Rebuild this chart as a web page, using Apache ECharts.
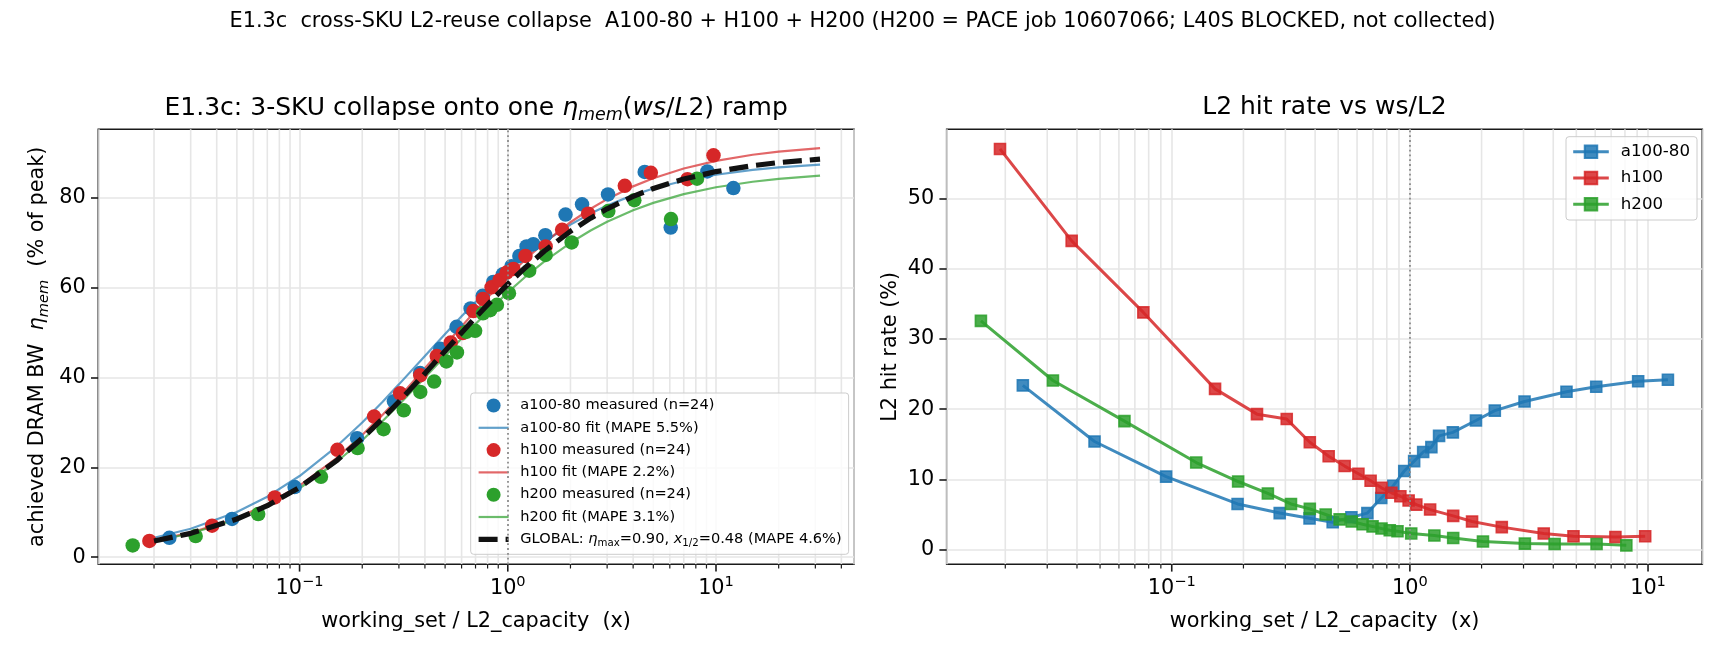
<!DOCTYPE html>
<html><head><meta charset="utf-8">
<script src="https://cdn.jsdelivr.net/npm/echarts@6/dist/echarts.min.js"></script>
<style>html,body{margin:0;padding:0;background:#fff}#c{width:1725px;height:660px}</style>
</head><body><div id="c"></div>
<script>
// ---------------- data ----------------
const xA100 = [0.0237, 0.0474, 0.0947, 0.189, 0.284, 0.379, 0.474, 0.568, 0.663, 0.758, 0.852, 0.947, 1.042, 1.137, 1.231, 1.326, 1.515, 1.894, 2.273, 3.03, 4.546, 6.06, 9.09, 12.12];
const etaA100 = [4.3, 8.5, 15.6, 26.5, 34.7, 41.0, 46.4, 51.3, 55.4, 58.2, 61.3, 63.0, 64.8, 67.1, 69.2, 69.7, 71.7, 76.3, 78.6, 80.8, 85.8, 73.4, 85.9, 82.2];
const hitA100 = [23.4, 15.4, 10.4, 6.5, 5.2, 4.45, 3.9, 4.6, 5.2, 7.35, 9.1, 11.2, 12.6, 13.9, 14.6, 16.2, 16.7, 18.4, 19.8, 21.1, 22.5, 23.2, 24.0, 24.2];

const xH100 = [0.019, 0.038, 0.076, 0.152, 0.228, 0.304, 0.380, 0.456, 0.532, 0.608, 0.684, 0.760, 0.836, 0.912, 0.988, 1.064, 1.216, 1.52, 1.824, 2.432, 3.648, 4.864, 7.296, 9.728];
const etaH100 = [3.6, 7.0, 13.3, 23.9, 31.3, 36.5, 40.5, 44.8, 47.8, 49.9, 54.8, 57.5, 60.1, 61.7, 63.4, 64.2, 67.1, 69.2, 72.9, 76.5, 82.7, 85.6, 84.2, 89.5];
const hitH100 = [57.1, 44.0, 33.8, 22.9, 19.3, 18.6, 15.3, 13.3, 11.9, 10.8, 9.8, 8.8, 8.1, 7.6, 7.0, 6.4, 5.7, 4.8, 4.0, 3.2, 2.3, 1.9, 1.8, 1.9];

const xH200 = [0.0158, 0.0317, 0.0633, 0.1267, 0.19, 0.2533, 0.3167, 0.38, 0.443, 0.507, 0.570, 0.633, 0.697, 0.760, 0.823, 0.887, 1.013, 1.267, 1.52, 2.027, 3.04, 4.053, 6.08, 8.107];
const etaH200 = [2.6, 4.7, 9.6, 17.9, 24.3, 28.5, 32.7, 36.8, 39.1, 43.6, 45.6, 50.2, 50.4, 54.3, 55.0, 56.2, 58.8, 63.8, 67.3, 70.1, 77.1, 79.5, 75.3, 84.3];
const hitH200 = [32.6, 24.1, 18.3, 12.4, 9.7, 8.0, 6.5, 5.8, 5.0, 4.3, 4.0, 3.6, 3.3, 3.0, 2.75, 2.6, 2.3, 2.0, 1.65, 1.15, 0.85, 0.8, 0.8, 0.6];

// fitted curves, sampled along the plotted lines
const fitX = [0.02, 0.03, 0.05, 0.07, 0.1, 0.15, 0.2, 0.25, 0.3, 0.4, 0.5, 0.6, 0.7, 0.85, 1, 1.2, 1.5, 2, 2.5, 3, 4, 5, 7, 10, 15, 20, 31.6];
const fitA100 = [4.32, 6.32, 10.06, 13.47, 18.06, 24.58, 30.0, 34.57, 38.48, 44.81, 49.72, 53.64, 56.83, 60.67, 63.67, 66.79, 70.24, 74.06, 76.56, 78.32, 80.64, 82.10, 83.83, 85.18, 86.26, 86.81, 87.42];
const fitH100 = [3.70, 5.44, 8.73, 11.77, 15.95, 22.02, 27.21, 31.68, 35.58, 42.05, 47.19, 51.39, 54.87, 59.12, 62.5, 66.07, 70.08, 74.60, 77.60, 79.74, 82.59, 84.40, 86.56, 88.26, 89.63, 90.33, 91.12];
const fitH200 = [3.58, 5.26, 8.42, 11.34, 15.34, 21.13, 26.04, 30.27, 33.94, 40.0, 44.80, 48.70, 51.93, 55.85, 58.96, 62.24, 65.90, 70.02, 72.75, 74.70, 77.27, 78.91, 80.86, 82.39, 83.62, 84.25, 84.96];
const fitGlobal = [3.60, 5.29, 8.49, 11.45, 15.52, 21.43, 26.47, 30.82, 34.62, 40.91, 45.92, 50.0, 53.39, 57.52, 60.81, 64.29, 68.18, 72.58, 75.50, 77.59, 80.36, 82.12, 84.22, 85.88, 87.21, 87.89, 88.65];

// ticks
const yTicksLeft = [0, 20, 40, 60, 80];
const yTicksRight = [0, 10, 20, 30, 40, 50];
const xMajorTicks = [0.1, 1, 10];
const xMinorTicksLeft = [0.02,0.03,0.04,0.05,0.06,0.07,0.08,0.09,0.2,0.3,0.4,0.5,0.6,0.7,0.8,0.9,2,3,4,5,6,7,8,9,20,30,40];
const xMinorTicksRight = [0.02,0.03,0.04,0.05,0.06,0.07,0.08,0.09,0.2,0.3,0.4,0.5,0.6,0.7,0.8,0.9,2,3,4,5,6,7,8,9];

const suptitle = 'E1.3c  cross-SKU L2-reuse collapse  A100-80 + H100 + H200 (H200 = PACE job 10607066; L40S BLOCKED, not collected)';

// ---------------- styling helpers ----------------
const FONT = 'DejaVu Sans';
const GRIDC = '#e6e6e6';
const INK = '#1a1a1a';
const FS = 20.8;
const pairs = (xs, ys) => xs.map((x, i) => [x, ys[i]]);
const tickData = (major, minor) => major.map(v => [v, 0, 1]).concat(minor.map(v => [v, 0, 0]));

function powLabel(v) {
  const e = Math.log10(v);
  const r = Math.round(e);
  if (Math.abs(e - r) > 1e-6) return '';
  const s = r < 0 ? '\u2212' + (-r) : String(r);
  return '{b|10}{sup|' + s + '}';
}
const xLabelRich = {
  b: {fontFamily: FONT, fontSize: FS, color: '#000'},
  sup: {fontFamily: FONT, fontSize: 14.6, color: '#000', padding: [0, 0, 14, 0]}
};

function tickRender(params, api) {
  const v = api.value(0);
  const major = api.value(2) === 1;
  const cs = params.coordSys;
  const x = api.coord([v, api.value(1)])[0];
  const bottom = cs.y + cs.height;
  const kids = [];
  if (!major) {
    kids.push({type: 'line', shape: {x1: x, y1: cs.y, x2: x, y2: bottom}, style: {stroke: GRIDC, lineWidth: 1.6}});
  }
  kids.push({type: 'line', shape: {x1: x, y1: bottom, x2: x, y2: bottom + (major ? 7.3 : 4.2)},
    style: {stroke: INK, lineWidth: major ? 1.6 : 1.2}});
  return {type: 'group', children: kids};
}

function xAxisCfg(gridIndex, min, max) {
  return {
    type: 'log', logBase: 10, gridIndex, min, max,
    axisLine: {show: false, onZero: false},
    axisTick: {show: false},
    splitLine: {show: true, lineStyle: {color: GRIDC, width: 1.6}},
    axisLabel: {formatter: powLabel, margin: 10, rich: xLabelRich, color: '#000'},
    name: 'working_set / L2_capacity  (x)', nameLocation: 'middle', nameGap: 47,
    nameTextStyle: {fontFamily: FONT, fontSize: FS, color: '#000'}
  };
}
function yAxisCfg(gridIndex, min, max, ticks, name, gap, rich) {
  return {
    type: 'value', gridIndex, min, max, splitNumber: 5,
    axisLine: {show: false, onZero: false},
    axisTick: {show: true, length: 7.3, customValues: ticks, lineStyle: {color: INK, width: 1.6}},
    axisLabel: {customValues: ticks, margin: 12.5, fontFamily: FONT, fontSize: FS, color: '#000'},
    splitLine: {show: true, lineStyle: {color: GRIDC, width: 1.6}},
    name, nameLocation: 'middle', nameGap: gap, nameMoveOverlap: false,
    nameTextStyle: {fontFamily: FONT, fontSize: FS, color: '#000', rich: rich || {}}
  };
}

const vline = {
  silent: true, symbol: ['none', 'none'], label: {show: false},
  lineStyle: {type: [1.8, 3], color: '#8c8c8c', width: 1.8},
  data: [{xAxis: 1}]
};

function fitSeries(name, data, color) {
  return {name, type: 'line', xAxisIndex: 0, yAxisIndex: 0, data, symbol: 'none', showSymbol: false,
    smooth: false, lineStyle: {color, width: 2.2}, itemStyle: {color}, z: 3};
}
function scatterSeries(name, data, color, extra) {
  return Object.assign({name, type: 'scatter', xAxisIndex: 0, yAxisIndex: 0, data, symbol: 'circle',
    symbolSize: 14.5, itemStyle: {color, opacity: 1}, z: 3}, extra || {});
}
function hitSeries(name, data, rgb) {
  const c = 'rgba(' + rgb + ',0.85)';
  return {name, type: 'line', xAxisIndex: 1, yAxisIndex: 1, data, symbol: 'rect', symbolSize: 11,
    showSymbol: true, lineStyle: {color: c, width: 3},
    itemStyle: {color: c, borderColor: c, borderWidth: 1.6}, z: 3};
}
const lineOnly = (name, width) => ({name, itemStyle: {opacity: 0}, lineStyle: {width: width}});

const chart = echarts.init(document.getElementById('c'), null, {renderer: 'canvas'});
chart.setOption({
  animation: false,
  backgroundColor: '#fff',
  textStyle: {fontFamily: FONT},
  title: [
    {text: suptitle, left: 862.5, top: 11, textAlign: 'center', padding: 0,
      textStyle: {fontFamily: FONT, fontSize: FS, fontWeight: 'normal', color: '#000'}},
    {text: '{t|E1.3c: 3-SKU collapse onto one }{it|\u03b7}{sub|mem}{t|(}{it|ws}{t|/}{it|L}{t|2) ramp}',
      left: 476.2, top: 91.5, textAlign: 'center', padding: 0,
      textStyle: {fontFamily: FONT, fontSize: 25, fontWeight: 'normal', color: '#000',
        rich: {
          t: {fontFamily: FONT, fontSize: 25, color: '#000'},
          it: {fontFamily: FONT, fontSize: 25, fontStyle: 'italic', color: '#000'},
          sub: {fontFamily: FONT, fontSize: 17.5, fontStyle: 'italic', color: '#000', padding: [15, 0, 0, 0]}
        }}},
    {text: 'L2 hit rate vs ws/L2', left: 1324.5, top: 95.2, textAlign: 'center', padding: 0,
      textStyle: {fontFamily: FONT, fontSize: 25, fontWeight: 'normal', color: '#000'}}
  ],
  grid: [
    {left: 98.3, top: 129.3, width: 755.7, height: 435, show: true, borderColor: INK, borderWidth: 1.6, backgroundColor: 'transparent'},
    {left: 946.7, top: 129.3, width: 755.6, height: 435, show: true, borderColor: INK, borderWidth: 1.6, backgroundColor: 'transparent'}
  ],
  xAxis: [xAxisCfg(0, 0.0108, 46), xAxisCfg(1, 0.01135, 16.9)],
  yAxis: [
    yAxisCfg(0, -1.6, 95.3, yTicksLeft,
      '{t|achieved DRAM BW  }{it|\u03b7}{sub|mem}{t|  (% of peak)}', 47,
      {t: {fontFamily: FONT, fontSize: FS, color: '#000'},
       it: {fontFamily: FONT, fontSize: FS, fontStyle: 'italic', color: '#000'},
       sub: {fontFamily: FONT, fontSize: 14.6, fontStyle: 'italic', color: '#000', padding: [12, 0, 0, 0]}}),
    yAxisCfg(1, -2.1, 59.9, yTicksRight, 'L2 hit rate (%)', 46)
  ],
  legend: [
    {
      data: ['a100-80 measured (n=24)', lineOnly('a100-80 fit (MAPE 5.5%)', 2.2), 'h100 measured (n=24)',
             lineOnly('h100 fit (MAPE 2.2%)', 2.2), 'h200 measured (n=24)', lineOnly('h200 fit (MAPE 3.1%)', 2.2),
             lineOnly('GLOBAL', 5.2)],
      orient: 'vertical', left: 470.7, top: 393, padding: [5, 7, 6, 5.3],
      itemWidth: 30, itemHeight: 14, itemGap: 7.3, selectedMode: false,
      backgroundColor: 'rgba(255,255,255,0.8)', borderColor: '#cccccc', borderWidth: 1, borderRadius: 3,
      formatter: function (name) {
        if (name === 'GLOBAL') return 'GLOBAL: {it|\u03b7}{sub|max}=0.90, {it|x}{sub|1/2}=0.48 (MAPE 4.6%)';
        return name;
      },
      textStyle: {fontFamily: FONT, fontSize: 14.58, color: '#000', lineHeight: 15, padding: [0, 0, 0, 6.7],
        rich: {
          it: {fontFamily: FONT, fontSize: 14.58, fontStyle: 'italic', color: '#000'},
          sub: {fontFamily: FONT, fontSize: 10.2, color: '#000', padding: [8, 0, 0, 0]}
        }}
    },
    {
      data: ['a100-80', 'h100', 'h200'],
      orient: 'vertical', left: 1566, top: 136.7, padding: [6, 7, 6.7, 5.7],
      itemWidth: 35.6, itemHeight: 15.6, itemGap: 8.3, selectedMode: false,
      lineStyle: {width: 3},
      backgroundColor: 'rgba(255,255,255,0.8)', borderColor: '#cccccc', borderWidth: 1, borderRadius: 3,
      textStyle: {fontFamily: FONT, fontSize: 16.67, color: '#000', lineHeight: 18, padding: [0, 0, 0, 7]}
    }
  ],
  series: [
    {type: 'custom', xAxisIndex: 0, yAxisIndex: 0, data: tickData(xMajorTicks, xMinorTicksLeft),
      encode: {x: 0, y: 1}, renderItem: tickRender, silent: true, z: 1, clip: false},
    {type: 'custom', xAxisIndex: 1, yAxisIndex: 1, data: tickData(xMajorTicks, xMinorTicksRight),
      encode: {x: 0, y: 1}, renderItem: tickRender, silent: true, z: 1, clip: false},
    scatterSeries('a100-80 measured (n=24)', pairs(xA100, etaA100), '#1f77b4', {markLine: vline}),
    fitSeries('a100-80 fit (MAPE 5.5%)', pairs(fitX, fitA100), 'rgba(31,119,180,0.7)'),
    scatterSeries('h100 measured (n=24)', pairs(xH100, etaH100), '#d62728'),
    fitSeries('h100 fit (MAPE 2.2%)', pairs(fitX, fitH100), 'rgba(214,39,40,0.7)'),
    scatterSeries('h200 measured (n=24)', pairs(xH200, etaH200), '#2ca02c'),
    fitSeries('h200 fit (MAPE 3.1%)', pairs(fitX, fitH200), 'rgba(44,160,44,0.7)'),
    {name: 'GLOBAL', type: 'line', xAxisIndex: 0, yAxisIndex: 0, data: pairs(fitX, fitGlobal),
      symbol: 'none', showSymbol: false, smooth: false,
      lineStyle: {color: '#111111', width: 5.2, type: [19, 8]}, itemStyle: {color: '#111111'}, z: 4},
    Object.assign(hitSeries('a100-80', pairs(xA100, hitA100), '31,119,180'), {markLine: vline}),
    hitSeries('h100', pairs(xH100, hitH100), '214,39,40'),
    hitSeries('h200', pairs(xH200, hitH200), '44,160,44')
  ]
});
</script>
</body></html>
